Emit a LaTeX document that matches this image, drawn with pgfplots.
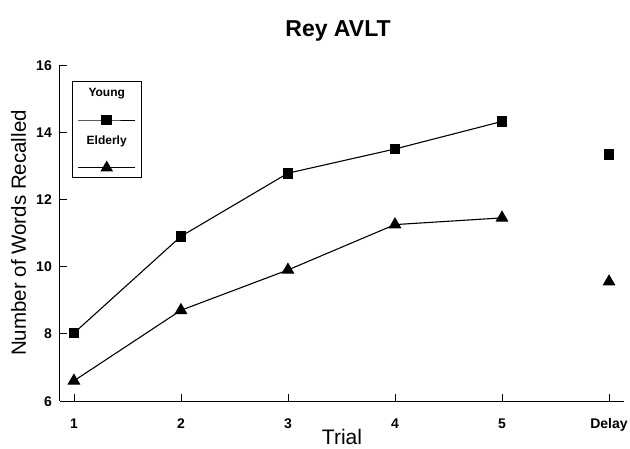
\documentclass[border=0pt]{standalone}
\usepackage{fontspec}
\setmainfont{Liberation Sans}
\usepackage{pgfplots}
\pgfplotsset{compat=1.18}

% Rey AVLT, mean words recalled per trial
\pgfplotstableread{
x   young  elderly
1   8.02   6.60
2   10.90  8.70
3   12.78  9.90
4   13.50  11.25
5   14.32  11.45
}\trials
\pgfplotstableread{
x   young  elderly
6   13.33  9.55
}\delay

\newcommand{\legimg}[1]{%
  \path[draw=none, fill=none] (-5.5pt,-9.5pt) rectangle (62.5pt,38.3pt);
  \draw[mark repeat=2, mark phase=2, line width=0.9pt]
    plot coordinates {(0pt,0pt) (28.5pt,0pt) (57pt,0pt)};
  \node[font=\fontsize{12}{14}\selectfont\bfseries, inner sep=0pt, draw=none]
    at (28.5pt,27pt) {#1};
}

\begin{document}
\begin{tikzpicture}
\useasboundingbox (-60pt,-47pt) rectangle (570pt,401pt);
\begin{axis}[
  at={(0pt,0pt)}, anchor=south west,
  scale only axis,
  width=564pt, height=336pt,
  xmin=0.87, xmax=6.14,
  ymin=6, ymax=16,
  axis x line*=bottom, axis y line*=left,
  axis line style={line width=1pt},
  tick align=inside, major tick length=7pt,
  tick style={line width=0.8pt, black},
  xtick={1,2,3,4,5,6},
  xticklabels={1,2,3,4,5,Delay},
  ytick={6,8,10,12,14,16},
  /pgf/number format/assume math mode=true,
  ticklabel style={font=\fontsize{14}{16}\selectfont\bfseries},
  xticklabel style={anchor=base, inner sep=0pt, yshift=-27pt},
  yticklabel style={anchor=base east, inner sep=0pt, xshift=-8pt, yshift=-5pt},
  xlabel={Trial},
  xlabel style={at={(axis description cs:0.5,0)}, anchor=base,
    yshift=-43pt, font=\fontsize{21}{24}\selectfont},
  ylabel={Number of Words Recalled},
  ylabel style={at={(axis description cs:-0.0603,0.5)}, anchor=base,
    rotate=0, font=\fontsize{20.5}{24}\selectfont},
  title={Rey AVLT},
  title style={at={(axis description cs:0.493,1.0655)}, anchor=base,
    font=\fontsize{23}{26}\selectfont\bfseries},
  legend style={at={(axis description cs:0.0226,0.9503)}, anchor=north west,
    draw=black, line width=0.8pt, inner sep=0pt, outer sep=0pt,
    nodes={draw=none, inner sep=0pt}, row sep=0pt, column sep=0pt},
  every axis plot/.append style={black, line width=1.1pt},
]
\addplot[mark=square*, mark size=4.8pt, mark options={solid, fill=black},
  legend image code/.code={\legimg{Young}}]
  table[x=x, y=young] {\trials};
\addlegendentry{}
\addplot[mark=triangle*, mark size=6.4pt, mark options={solid, fill=black},
  legend image code/.code={\legimg{Elderly}}]
  table[x=x, y=elderly] {\trials};
\addlegendentry{}
\addplot[only marks, mark=square*, mark size=4.8pt, forget plot]
  table[x=x, y=young] {\delay};
\addplot[only marks, mark=triangle*, mark size=6.4pt, forget plot]
  table[x=x, y=elderly] {\delay};
\end{axis}
\end{tikzpicture}
\end{document}
